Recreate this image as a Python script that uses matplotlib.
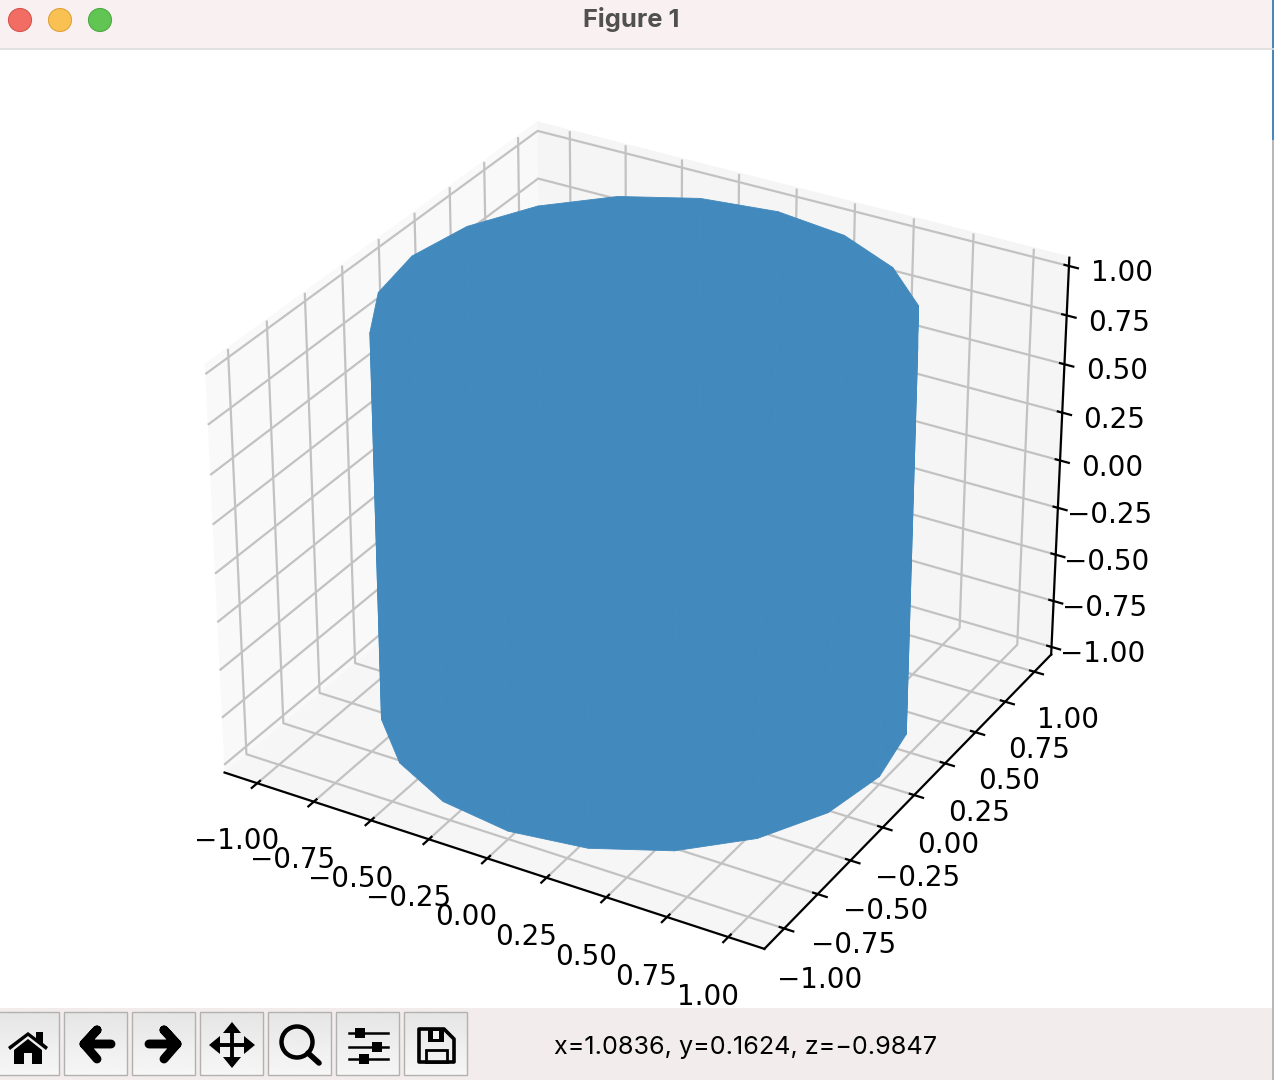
import matplotlib
matplotlib.use("Agg")
import matplotlib.pyplot as plt
import numpy as np
from matplotlib.patches import Rectangle, Circle, Polygon

# cylinder outline, radius 1, 20 segments
circle_x = [1.0, 0.951, 0.809, 0.588, 0.309, 0.0, -0.309, -0.588, -0.809, -0.951, -1.0,
            -0.951, -0.809, -0.588, -0.309, 0.0, 0.309, 0.588, 0.809, 0.951, 1.0]
circle_y = [0.0, 0.309, 0.588, 0.809, 0.951, 1.0, 0.951, 0.809, 0.588, 0.309, 0.0,
            -0.309, -0.588, -0.809, -0.951, -1.0, -0.951, -0.809, -0.588, -0.309, 0.0]
height_z = [-1.0, 1.0]
ticks = [-1.0, -0.75, -0.5, -0.25, 0.0, 0.25, 0.5, 0.75, 1.0]
status = "x=1.0836, y=0.1624, z=\u22120.9847"

W, H = 1274, 1080
fig = plt.figure(figsize=(W / 200, H / 200), dpi=200, facecolor="white")

# 3D axes fills the canvas part of the window (y 48..1008)
ax = fig.add_axes([2.5 / W, (H - 1009.5) / H, 1260 / W, 961 / H], projection="3d")
X = np.array([circle_x, circle_x])
Y = np.array([circle_y, circle_y])
Z = np.array([[height_z[0]] * len(circle_x), [height_z[1]] * len(circle_x)])
ax.plot_surface(X, Y, Z, color="#4289bd", edgecolor="#4289bd", linewidth=0.3, shade=False, rstride=1, cstride=1)
ax.set_xticks(ticks)
ax.set_yticks(ticks)
ax.set_zticks(ticks)
for axis, pane in [(ax.xaxis, "#f9f9f9"), (ax.yaxis, "#f5f5f5"), (ax.zaxis, "#f6f6f6")]:
    axis.set_pane_color(pane)
    axis._axinfo["grid"]["color"] = "#c2c2c2"

# window chrome in pixel coordinates
ui = fig.add_axes([0, 0, 1, 1], zorder=5)
ui.axis("off")
ui.patch.set_alpha(0)

ui.add_patch(Rectangle((0, 0), W, 48, fc="#f9f0f1", ec="none"))
ui.plot([0, W], [48.5, 48.5], color="#dcdcdc", lw=0.6)
for cx, fc, ec in [(20, "#f26d63", "#d9534c"), (60, "#f9c152", "#dfa23c"), (100, "#61c554", "#4fa944")]:
    ui.add_patch(Circle((cx, 20), 11.5, fc=fc, ec=ec, lw=0.4))
ui.text(631, 20, "Figure 1", ha="center", va="center", fontsize=9.2,
        fontweight="bold", family="Inter", color="#505050")

ui.add_patch(Rectangle((0, 1008), W, 72, fc="#f2ecec", ec="none", zorder=0))
gradient = np.linspace(0.90, 0.965, 32).reshape(-1, 1)
for left in [-4, 64, 132, 200, 268, 336, 404]:
    ui.imshow(gradient, cmap="gray", vmin=0, vmax=1, aspect="auto", extent=(left, left + 63, 1075, 1012), zorder=0.5)
    ui.add_patch(Rectangle((left, 1012), 63, 63, fc="none", ec="#b4b0b0", lw=0.5))
ui.text(746, 1054, status, ha="center", va="baseline", fontsize=9.05, family="Inter", color="black")

k = "black"
# home
ui.add_patch(Polygon([(8, 1047), (28, 1032), (36, 1038), (36, 1032), (43, 1032), (43, 1043), (48, 1047),
                      (46, 1050), (28, 1036), (10, 1050)], fc=k, ec="none"))
ui.add_patch(Polygon([(14, 1050), (28, 1039), (42, 1050), (42, 1064), (32, 1064), (32, 1053),
                      (24, 1053), (24, 1064), (14, 1064)], fc=k, ec="none"))
# back / forward
ui.plot([111, 84, 97, 84, 97], [1044, 1044, 1030, 1044, 1059], color=k, lw=3.2, solid_capstyle="round",
        solid_joinstyle="round")
ui.plot([149, 177, 164, 177, 164], [1044, 1044, 1030, 1044, 1059], color=k, lw=3.2, solid_capstyle="round",
        solid_joinstyle="round")
# pan
ui.plot([214, 250], [1045, 1045], color=k, lw=1.4)
ui.plot([232, 232], [1027, 1063], color=k, lw=1.4)
for tri in [[(232, 1022), (223, 1033), (241, 1033)], [(232, 1068), (223, 1057), (241, 1057)],
            [(209, 1045), (220, 1036), (220, 1054)], [(255, 1045), (244, 1036), (244, 1054)]]:
    ui.add_patch(Polygon(tri, fc=k, ec="none"))
# zoom
ui.add_patch(Circle((297, 1042), 15.5, fc="none", ec=k, lw=1.6))
ui.plot([308, 319], [1053, 1063], color=k, lw=2.0, solid_capstyle="round")
# sliders
for yy, xx in [(1033, 360), (1047, 377), (1059, 364)]:
    ui.plot([349, 388], [yy, yy], color=k, lw=0.9)
    ui.add_patch(Rectangle((xx - 5, yy - 5), 10, 10, fc=k, ec="none"))
# save
ui.add_patch(Polygon([(419, 1029), (444, 1029), (454, 1039), (454, 1062), (419, 1062)], fc="none", ec=k, lw=1.3,
                     joinstyle="round"))
ui.add_patch(Rectangle((428, 1029), 16, 13, fc=k, ec="none"))
ui.add_patch(Rectangle((433, 1031), 6, 8, fc="#f0f0f0", ec="none"))
ui.add_patch(Rectangle((426, 1050), 21, 12, fc="none", ec=k, lw=1.0))

# edge of the window and what shows behind it
ui.add_patch(Rectangle((1272, 0), 2, 140, fc="#4a86b8", ec="none"))
ui.add_patch(Rectangle((1272, 140), 2, 940, fc="#b8b8b8", ec="none"))

ui.set_xlim(0, W)
ui.set_ylim(H, 0)

fig.savefig("out.png", dpi=200)
